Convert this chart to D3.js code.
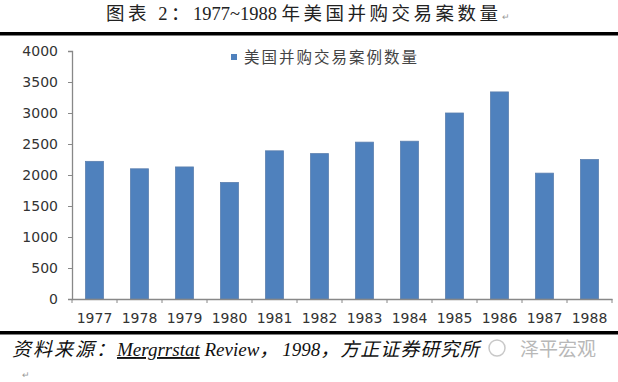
<!DOCTYPE html>
<html>
<head>
<meta charset="utf-8">
<script src="https://cdn.jsdelivr.net/npm/d3@7"></script>
<style>
  body { margin: 0; background: #fff; }
  svg { display: block; }
</style>
</head>
<body>
<div id="chart"></div>
<script>
const years = ["1977", "1978", "1979", "1980", "1981", "1982", "1983", "1984", "1985", "1986", "1987", "1988"];
const deals = [2220, 2100, 2130, 1880, 2390, 2345, 2530, 2545, 3000, 3340, 2030, 2250];
const yTicks = [0, 500, 1000, 1500, 2000, 2500, 3000, 3500, 4000];
const seriesName = "美国并购交易案例数量";

const width = 618;
const height = 382;
const margin = { top: 51, right: 6, bottom: 83, left: 72 };

const svg = d3.select("#chart")
  .append("svg")
  .attr("width", width)
  .attr("height", height);

// title and rules
const title = svg.append("text")
  .attr("x", 106)
  .attr("y", 20)
  .style("font-family", "'Liberation Serif', 'Noto Sans CJK SC', serif")
  .style("font-size", "18.5px")
  .attr("fill", "#222");
title.append("tspan").style("letter-spacing", "3.5px").text("图表 2：");
title.append("tspan").text("1977~1988 ");
title.append("tspan").style("letter-spacing", "3.5px").text("年美国并购交易案数量");
title.append("tspan")
  .style("font-size", "9px")
  .attr("fill", "#999")
  .text("↵");

svg.append("rect")
  .attr("x", 0).attr("y", 32)
  .attr("width", width).attr("height", 3.5)
  .attr("fill", "#000");

svg.append("rect")
  .attr("x", 0).attr("y", 331)
  .attr("width", width).attr("height", 3.5)
  .attr("fill", "#000");

const x = d3.scaleBand()
  .domain(years)
  .range([margin.left, width - margin.right])
  .paddingInner(0.6)
  .paddingOuter(0.3);

const y = d3.scaleLinear()
  .domain([0, 4000])
  .range([height - margin.bottom, margin.top]);

const plotBottom = height - margin.bottom;

// bars
svg.selectAll("rect.bar")
  .data(years)
  .enter()
  .append("rect")
  .attr("class", "bar")
  .attr("x", d => x(d))
  .attr("y", (d, i) => y(deals[i]))
  .attr("width", x.bandwidth())
  .attr("height", (d, i) => plotBottom - y(deals[i]))
  .attr("fill", "#4F81BD")
  .attr("stroke", "#5b7fae")
  .attr("stroke-width", 0.8);

// y axis
const yAxis = svg.append("g")
  .attr("transform", `translate(${margin.left},0)`)
  .call(d3.axisLeft(y).tickValues(yTicks).tickFormat(d3.format("d")).tickSize(4).tickPadding(10));

// x axis, ticks between categories
const xEdges = d3.range(years.length + 1).map(i => margin.left + i * (width - margin.left - margin.right) / years.length);
const xAxis = svg.append("g")
  .attr("transform", `translate(0,${plotBottom})`)
  .call(d3.axisBottom(x).tickSize(0).tickPadding(14));

xAxis.selectAll(".edge")
  .data(xEdges)
  .enter()
  .append("line")
  .attr("class", "edge")
  .attr("x1", d => d).attr("x2", d => d)
  .attr("y1", 0).attr("y2", 4)
  .attr("stroke", "#888");

[yAxis, xAxis].forEach(g => {
  g.select(".domain").attr("stroke", "#888").attr("stroke-width", 1.3);
  g.selectAll(".tick line").attr("stroke", "#888");
  g.selectAll("text")
    .style("font-family", "'DejaVu Sans', 'Open Sans', sans-serif")
    .style("font-size", "14px")
    .attr("fill", "#333");
});

// legend
const legend = svg.append("g").attr("transform", "translate(231,57)");
legend.append("rect")
  .attr("x", 0).attr("y", -3)
  .attr("width", 6).attr("height", 6)
  .attr("fill", "#4F81BD");
legend.append("text")
  .attr("x", 13)
  .attr("y", 6)
  .style("font-family", "'Noto Sans CJK SC', sans-serif")
  .style("font-size", "15.5px")
  .style("letter-spacing", "2px")
  .attr("fill", "#444")
  .text(seriesName);

// footer
const foot = svg.append("text")
  .attr("x", 12)
  .attr("y", 356)
  .style("font-family", "'Liberation Serif', 'Noto Sans CJK SC', serif")
  .style("font-style", "italic")
  .style("font-size", "19px")
  .attr("fill", "#111");
foot.append("tspan").style("letter-spacing", "2px").text("资料来源：");
foot.append("tspan")
  .attr("text-decoration", "underline")
  .text("Mergrrstat");
foot.append("tspan").text(" Review");
foot.append("tspan").style("letter-spacing", "4px").text("，");
foot.append("tspan").text("1998");
foot.append("tspan").style("letter-spacing", "1px").text("，方正证券研究所");

svg.append("circle")
  .attr("cx", 497).attr("cy", 348)
  .attr("r", 8)
  .attr("fill", "none")
  .attr("stroke", "#c8c8c8")
  .attr("stroke-width", 1.5);

svg.append("text")
  .attr("x", 520)
  .attr("y", 356)
  .style("font-family", "'Noto Sans CJK SC', sans-serif")
  .style("font-size", "19px")
  .attr("fill", "#b8b8b8")
  .text("泽平宏观");

svg.append("text")
  .attr("x", 22)
  .attr("y", 378)
  .style("font-size", "9px")
  .attr("fill", "#999")
  .text("↵");
</script>
</body>
</html>
